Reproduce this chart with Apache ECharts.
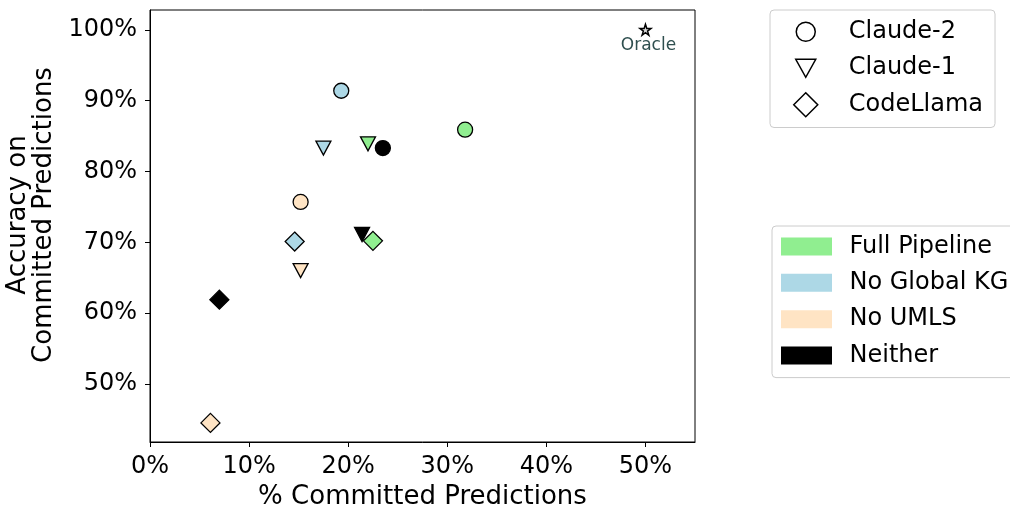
<!DOCTYPE html>
<html><head><meta charset="utf-8">
<script src="https://cdn.jsdelivr.net/npm/echarts@6/dist/echarts.min.js"></script>
<style>html,body{margin:0;padding:0;background:#fff}#c{width:1010px;height:508px}</style>
</head><body><div id="c"></div>
<script>
const variants = ['Full Pipeline', 'No Global KG', 'No UMLS', 'Neither'];
const models = ['Claude-2', 'Claude-1', 'CodeLlama'];
const claude2X = [31.8, 19.3, 15.2, 23.5];
const claude2Y = [85.9, 91.4, 75.7, 83.3];
const claude1X = [22.0, 17.5, 15.2, 21.4];
const claude1Y = [83.9, 83.3, 66.0, 71.1];
const codellamaX = [22.5, 14.6, 6.1, 7.0];
const codellamaY = [70.2, 70.1, 44.5, 61.9];
const oracleX = [50];
const oracleY = [100];
const xTicks = [0, 10, 20, 30, 40, 50];
const yTicks = [50, 60, 70, 80, 90, 100];

const variantColors = ['#90EE90', '#ADD8E6', '#FFE4C4', '#000000'];
const FONT = 'DejaVu Sans';
const triDown = 'path://M0,0L10,0L5,10Z';
const star = 'path://M50,0L61.8,35.3L98.9,35.3L68.8,57.3L80.3,92.7L50,70.8L19.7,92.7L31.2,57.3L1.1,35.3L38.2,35.3Z';

function pts(xs, ys) {
  return xs.map((x, i) => ({ value: [x, ys[i]], itemStyle: { color: variantColors[i] } }));
}
const edge = { borderColor: '#000', borderWidth: 1.3, opacity: 1 };

const legIconCircle = 'path://M0,0M25,25M3,12.5a9.5,9.5 0 1,0 19,0a9.5,9.5 0 1,0 -19,0z';
const legIconTri = 'path://M0,0M25,25M2.5,3.5L22.5,3.5L12.5,21.5Z';
const legIconDia = 'path://M0,0M25,25M12.5,0.5L24.5,12.5L12.5,24.5L0.5,12.5Z';
const legWhite = { color: '#fff', borderColor: '#000', borderWidth: 1.5, opacity: 1 };

const chart = echarts.init(document.getElementById('c'), null, { renderer: 'canvas' });
chart.setOption({
  animation: false,
  backgroundColor: '#fff',
  textStyle: { fontFamily: FONT },
  grid: { left: 150, right: 315, top: 10, bottom: 66, containLabel: false, outerBoundsMode: 'none', show: true, borderColor: '#000', borderWidth: 1, backgroundColor: 'transparent' },
  xAxis: {
    type: 'value', min: 0, max: 55,
    name: '% Committed Predictions', nameLocation: 'middle', nameGap: 42,
    nameTextStyle: { fontFamily: FONT, fontSize: 26, color: '#000' },
    axisLine: { show: true, lineStyle: { color: '#000', width: 1 } },
    axisTick: { show: true, inside: false, length: 5, lineStyle: { color: '#000' }, customValues: xTicks },
    axisLabel: { fontFamily: FONT, fontSize: 24, color: '#000', margin: 13, customValues: xTicks, formatter: v => v + '%' },
    splitLine: { show: false }
  },
  yAxis: {
    type: 'value', min: 41.8, max: 102.8,
    name: 'Accuracy on\nCommitted Predictions', nameLocation: 'middle', nameGap: 83,
    nameTextStyle: { fontFamily: FONT, fontSize: 26, color: '#000', lineHeight: 26, padding: [0, 0, 0, 22] },
    axisLine: { show: true, lineStyle: { color: '#000', width: 1 } },
    axisTick: { show: true, inside: false, length: 5, lineStyle: { color: '#000' }, customValues: yTicks },
    axisLabel: { fontFamily: FONT, fontSize: 24, color: '#000', margin: 13, customValues: yTicks, formatter: v => v + '%' },
    splitLine: { show: false }
  },
  legend: [
    {
      orient: 'vertical', left: 770, top: 10,
      padding: [8.5, 12, 9.5, 22.5],
      itemWidth: 25, itemHeight: 25, itemGap: 10,
      backgroundColor: '#fff', borderColor: '#cccccc', borderWidth: 1, borderRadius: 4,
      textStyle: { fontFamily: FONT, fontSize: 24, color: '#000', lineHeight: 25, padding: [0, 0, 0, 25.5] },
      selectedMode: false,
      data: [
        { name: models[0], icon: legIconCircle, itemStyle: legWhite },
        { name: models[1], icon: legIconTri, itemStyle: legWhite },
        { name: models[2], icon: legIconDia, itemStyle: legWhite }
      ]
    },
    {
      orient: 'vertical', left: 772, top: 226,
      padding: [8.4, 20, 10, 9],
      itemWidth: 51, itemHeight: 18, itemGap: 12.4,
      backgroundColor: '#fff', borderColor: '#cccccc', borderWidth: 1, borderRadius: 4,
      textStyle: { fontFamily: FONT, fontSize: 24, color: '#000', lineHeight: 18, padding: [0, 0, 0, 12.5] },
      selectedMode: false,
      data: variants.map((v, i) => ({ name: v, icon: 'rect', itemStyle: { color: variantColors[i], borderWidth: 0, opacity: 1 } }))
    }
  ],
  series: [
    { name: models[0], type: 'scatter', symbol: 'circle', symbolSize: 15, itemStyle: edge, data: pts(claude2X, claude2Y), z: 3 },
    { name: models[1], type: 'scatter', symbol: triDown, symbolSize: [15, 14], itemStyle: edge, data: pts(claude1X, claude1Y), z: 4 },
    { name: models[2], type: 'scatter', symbol: 'diamond', symbolSize: 19, itemStyle: edge, data: pts(codellamaX, codellamaY), z: 5 },
    {
      name: 'Oracle', type: 'scatter', symbol: star, symbolSize: 11, z: 6,
      itemStyle: { color: '#d8d8d8', borderColor: '#000', borderWidth: 1.5, opacity: 1 },
      label: { show: true, position: 'bottom', distance: 1, offset: [3, 0], formatter: 'Oracle', color: '#2F4F4F', fontFamily: FONT, fontSize: 17 },
      data: oracleX.map((x, i) => [x, oracleY[i]])
    }
  ].concat(variants.map((v, i) => ({ name: v, type: 'scatter', data: [], itemStyle: { color: variantColors[i], opacity: 1 } })))
});
</script>
</body></html>
